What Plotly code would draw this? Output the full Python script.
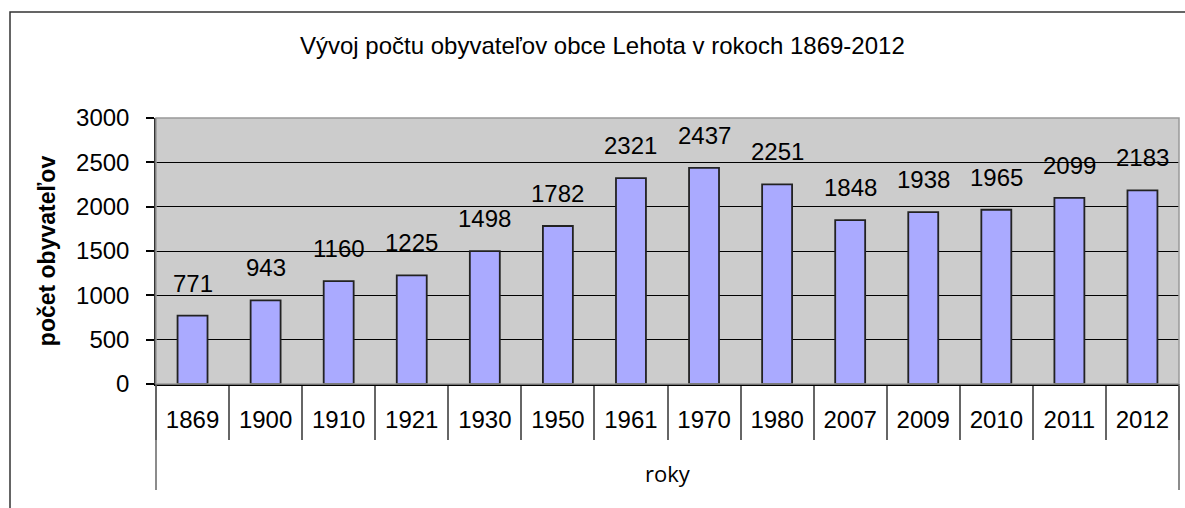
import plotly.graph_objects as go

years = ["1869", "1900", "1910", "1921", "1930", "1950", "1961", "1970",
         "1980", "2007", "2009", "2010", "2011", "2012"]
population = [771, 943, 1160, 1225, 1498, 1782, 2321, 2437, 2251, 1848,
              1938, 1965, 2099, 2183]
x_title = "roky"
title_text = "Vývoj počtu obyvateľov obce Lehota v rokoch 1869-2012"
y_title = "počet obyvateľov"
y_ticks = [0, 500, 1000, 1500, 2000, 2500, 3000]

W, H = 1185, 508
ML, MR, MT, MB = 156, 6, 118, 124
PW, PH = W - ML - MR, H - MT - MB
FONT = "Liberation Sans, Arial, sans-serif"

fig = go.Figure()
fig.add_trace(go.Bar(
    x=years, y=population,
    marker=dict(color="#AAAAFF", line=dict(color="#222222", width=1.8)),
    hoverinfo="x+y",
))

annotations = []
for i, val in enumerate(population):
    annotations.append(dict(
        x=i, y=val, xref="x", yref="y",
        text=str(val), showarrow=False, yanchor="bottom", yshift=17,
        font=dict(family=FONT, size=24, color="#000000"),
    ))

annotations.append(dict(
    x=(602 - ML) / PW, y=(H - 45 - MB) / PH, xref="paper", yref="paper",
    text=title_text, showarrow=False, xanchor="center", yanchor="middle",
    font=dict(family=FONT, size=24, color="#000000"),
))
annotations.append(dict(
    x=0.5, y=-(473 - (H - MB)) / PH, xref="paper", yref="paper",
    text=x_title, showarrow=False, xanchor="center", yanchor="middle",
    font=dict(family="Open Sans, Noto Sans, sans-serif", size=22, color="#000000"),
))

fig.update_layout(
    width=W, height=H,
    margin=dict(l=ML, r=MR, t=MT, b=MB, pad=0),
    paper_bgcolor="#FFFFFF",
    plot_bgcolor="#CCCCCC",
    bargap=0.59,
    showlegend=False,
    annotations=annotations,
    font=dict(family=FONT, size=24, color="#000000"),
    xaxis=dict(
        type="category", categoryorder="array", categoryarray=years,
        range=[-0.5, len(years) - 0.5], autorange=False,
        showline=True, linecolor="#000000", linewidth=1.5,
        ticks="outside", tickson="boundaries", ticklen=54,
        tickcolor="#666666", tickwidth=1.5,
        tickfont=dict(family=FONT, size=24),
        tickangle=0,
        ticklabelstandoff=13,
        showgrid=False,
    ),
    yaxis=dict(
        range=[0, 3000], tickvals=y_ticks,
        showline=True, linecolor="#333333", linewidth=1.5,
        ticks="outside", ticklen=8, tickcolor="#000000", tickwidth=1.5,
        showgrid=True, gridcolor="#000000", gridwidth=1,
        tickfont=dict(family=FONT, size=24),
        ticklabelstandoff=12,
        zeroline=False,
        title=dict(text="<b>" + y_title + "</b>", standoff=14,
                   font=dict(family=FONT, size=23)),
    ),
    shapes=[
        dict(type="rect", xref="paper", yref="paper", x0=0, x1=1, y0=0, y1=1,
             line=dict(color="#999999", width=1.5), fillcolor="rgba(0,0,0,0)", layer="above"),
        dict(type="line", xref="paper", yref="paper", x0=0, x1=0,
             y0=0, y1=-106 / PH, line=dict(color="#666666", width=1.5)),
        dict(type="line", xref="paper", yref="paper", x0=1, x1=1,
             y0=0, y1=-106 / PH, line=dict(color="#666666", width=1.5)),
        dict(type="rect", xref="paper", yref="paper",
             x0=-(ML - 10) / PW, x1=1.2,
             y0=-(MB + 20) / PH, y1=1 + (MT - 12) / PH,
             line=dict(color="#333333", width=1.5), fillcolor="rgba(0,0,0,0)"),
    ],
)

fig.write_html("out.html", config={"displayModeBar": False},
               post_script="document.body.style.margin='0';")
